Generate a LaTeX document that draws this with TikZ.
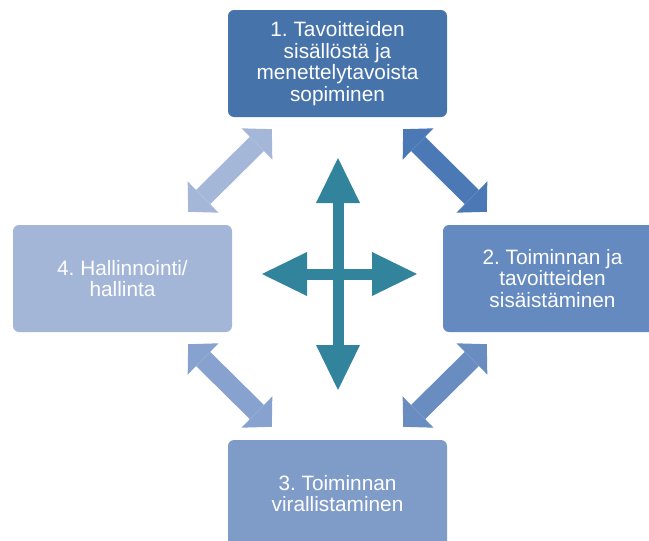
\documentclass[tikz,border=0pt]{standalone}
\usepackage{fontspec}
\setmainfont{Liberation Sans}
\usetikzlibrary{calc,arrows.meta}
\definecolor{stageone}{HTML}{4773AB}
\definecolor{stagetwo}{HTML}{658ABF}
\definecolor{stagethree}{HTML}{7F9CC9}
\definecolor{stagefour}{HTML}{A4B6D8}
\definecolor{linkone}{HTML}{4A79B5}
\definecolor{linktwo}{HTML}{698DC1}
\definecolor{linkthree}{HTML}{87A2CE}
\definecolor{linkfour}{HTML}{A5B7D9}
\definecolor{crossteal}{HTML}{31849B}

\begin{document}
\frenchspacing
\begin{tikzpicture}[x=1pt, y=-1pt,
		stage/.style={rounded corners=6pt, minimum width=219pt, minimum height=107pt, inner sep=0pt, text=white, align=center, font=\fontsize{20.8}{21.7}\selectfont},
		link/.style={line width=20pt, {Triangle[width=44pt,length=21pt,line width=0pt]}-{Triangle[width=44pt,length=21pt,line width=0pt]}},
		move/.style={draw=crossteal, line width=11pt, {Triangle[width=44pt,length=45pt,line width=0pt]}-{Triangle[width=44pt,length=45pt,line width=0pt]}}]
			%%%%% START %%%%%
			
			\clip (0, 0) rectangle (649, 541);
			
			\node[stage, fill=stageone] (b1) at (337.5, 63.5) {1. Tavoitteiden\\sisällöstä ja\\menettelytavoista\\sopiminen};
			\node[stage, fill=stagetwo] (b2) at (552.5, 278.5) {2. Toiminnan ja\\tavoitteiden\\sisäistäminen};
			\node[stage, fill=stagethree] (b3) at (337.5, 493.5) {3. Toiminnan\\virallistaminen};
			\node[stage, fill=stagefour] (b4) at (122.5, 278.5) {4. Hallinnointi/\\hallinta};
			
			\draw[link, draw=linkone] ($(b1.south east)+(-44, 12)$) -- ($(b2.north west)+(44, -13)$);
			\draw[link, draw=linktwo] ($(b2.south west)+(44, 12)$) -- ($(b3.north east)+(-44, -13)$);
			\draw[link, draw=linkthree] ($(b3.north west)+(44, -13)$) -- ($(b4.south east)+(-44, 12)$);
			\draw[link, draw=linkfour] ($(b4.north east)+(-44, -13)$) -- ($(b1.south west)+(44, 12)$);
			
			\coordinate (hub) at (338, 274);
			\draw[move] ($(hub)+(0, -116)$) -- ($(hub)+(0, 116)$);
			\draw[move] ($(hub)+(-76, 0)$) -- ($(hub)+(79, 0)$);
			
			%%%%% END %%%%%
\end{tikzpicture}
\end{document}
